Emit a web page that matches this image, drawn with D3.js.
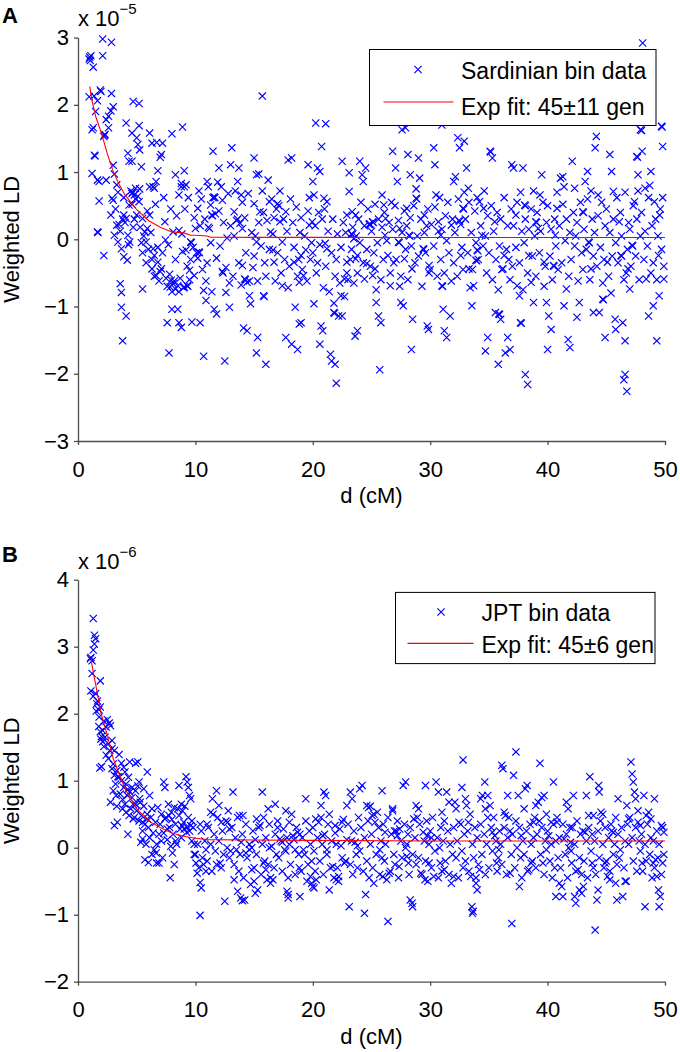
<!DOCTYPE html>
<html><head><meta charset="utf-8">
<script src="https://cdn.jsdelivr.net/npm/d3@7"></script>
<style>body{margin:0;background:#fff}svg{display:block}text{font-family:"Liberation Sans",Arial,Helvetica,sans-serif}</style>
</head><body>
<svg id="chart" width="680" height="1052"></svg>
<script>
// ---------- tick labels ----------
const xTicks = [0, 10, 20, 30, 40, 50];
const yTicksA = [-3, -2, -1, 0, 1, 2, 3];
const yTicksB = [-2, -1, 0, 1, 2, 3, 4];

// ---------- Panel A : Sardinian bin data (weighted LD, units of 1e-5) ----------
const sardinianPoints = [[1.0,2.71],[1.1,2.73],[0.95,2.68],[1.05,2.66],[1.3,2.56],[2.1,2.98],[2.85,2.93],[2.1,2.73],[1.9,2.22],[1.95,2.2],[2.85,2.17],[0.95,2.12],[1.37,2.13],[1.66,2.06],[3.0,1.97],[2.8,1.91],[2.6,1.83],[2.4,1.78],[1.3,1.66],[1.2,1.63],[2.3,1.56],[2.2,1.53],[2.25,1.55],[2.6,1.66],[1.5,1.9],[1.4,1.25],[1.45,1.24],[1.2,0.98],[1.66,0.88],[1.8,0.86],[2.4,0.88],[1.8,0.57],[1.66,0.11],[1.7,0.1],[2.2,-0.24],[3.0,1.1],[3.1,0.97],[3.3,0.81],[2.9,0.61],[3.0,0.58],[2.8,0.36],[3.1,0.06],[3.3,0.21],[3.4,-0.04],[3.7,-0.14],[3.6,-0.66],[3.7,-0.79],[3.7,-1.01],[3.8,-1.51],[4.1,-1.14],[3.9,-0.26],[4.2,-0.31],[4.1,1.73],[4.25,1.28],[4.35,1.16],[3.9,0.36],[4.1,0.31],[4.25,0.06],[4.4,-0.04],[4.35,0.51],[4.7,2.05],[5.2,2.02],[4.6,1.58],[5.2,1.69],[5.0,1.51],[5.1,1.41],[5.25,1.33],[4.6,1.16],[5.4,1.08],[4.6,0.68],[4.65,0.7],[4.8,0.66],[4.9,0.76],[5.25,0.75],[5.2,0.56],[5.5,0.31],[5.0,0.36],[5.5,-0.74],[5.7,0.11],[5.8,-0.04],[6.1,1.58],[6.3,1.43],[6.7,1.44],[7.2,1.43],[7.0,1.22],[7.1,1.26],[6.8,1.02],[6.1,0.78],[6.5,0.76],[6.65,0.86],[6.1,0.36],[5.9,0.16],[6.4,-0.14],[6.5,-0.24],[6.3,-0.44],[6.65,-0.54],[6.8,-0.34],[7.1,-0.44],[7.4,0.26],[7.45,-0.01],[7.6,-1.24],[7.75,-1.69],[7.95,-0.61],[7.85,-0.71],[8.1,-0.66],[8.3,-0.74],[8.5,-0.69],[8.0,-1.04],[8.5,-1.04],[8.6,-1.24],[8.8,-1.31],[8.0,1.57],[8.3,0.96],[8.9,1.67],[9.05,1.02],[8.8,0.83],[9.05,0.78],[9.2,0.81],[8.6,0.66],[8.6,0.13],[8.85,0.08],[8.1,0.11],[9.2,-0.16],[9.3,-0.69],[9.35,-0.7],[9.05,-0.71],[9.6,-0.04],[9.65,-0.05],[9.5,-0.46],[9.7,-1.23],[9.9,-0.54],[10.0,0.16],[10.3,-0.19],[10.35,-0.2],[10.2,0.46],[10.4,-1.24],[10.7,-1.74],[10.9,-0.91],[10.7,-0.76],[11.0,0.86],[11.1,0.78],[11.3,0.51],[11.5,1.31],[11.2,0.16],[11.6,0.63],[11.65,0.62],[11.4,0.36],[11.45,0.35],[11.6,-1.04],[11.8,-1.11],[12.0,1.06],[12.2,0.78],[12.3,-0.48],[12.35,-0.5],[12.5,-1.81],[12.6,-0.79],[12.9,-1.01],[13.1,1.36],[13.0,1.11],[13.3,0.41],[13.5,0.28],[13.7,1.06],[13.6,0.86],[13.9,0.66],[14.0,0.16],[14.0,-0.39],[14.2,-0.59],[14.25,-0.6],[14.4,-0.64],[14.1,-1.32],[14.4,-1.36],[14.6,-0.84],[14.7,-0.96],[15.0,1.21],[15.2,0.96],[15.4,0.97],[15.0,0.53],[15.5,0.41],[15.2,-0.04],[15.3,-1.46],[15.2,-1.69],[15.7,2.13],[15.8,-0.84],[15.85,-0.85],[16.0,-1.86],[16.2,0.88],[16.3,0.56],[16.4,0.11],[16.6,-0.16],[16.7,-0.34],[17.0,0.53],[17.2,0.26],[17.4,-0.04],[17.4,-0.69],[17.7,-1.46],[17.7,0.41],[17.9,1.18],[18.2,1.21],[18.2,-1.56],[18.7,-1.64],[18.5,-1.01],[18.85,-1.26],[19.0,-1.24],[18.4,-0.34],[18.85,-0.64],[19.0,-0.24],[19.2,-0.54],[19.4,-0.16],[19.6,1.11],[19.7,0.21],[19.95,0.26],[20.0,0.86],[20.1,0.66],[20.25,1.73],[20.4,1.06],[20.6,1.01],[20.75,1.38],[21.1,1.72],[20.95,0.61],[21.2,0.56],[20.1,-0.96],[20.7,-1.29],[20.6,-1.56],[20.85,-1.36],[21.05,-0.06],[21.2,-0.14],[21.5,-1.71],[21.6,-1.81],[21.8,-1.09],[21.85,-1.1],[22.0,-2.14],[21.9,-1.86],[22.2,-1.14],[22.4,-0.84],[22.5,-1.14],[22.7,-0.59],[22.9,-0.34],[22.5,1.16],[23.1,0.99],[23.1,0.71],[22.9,0.36],[23.3,0.08],[23.35,0.07],[23.35,0.41],[23.65,0.36],[23.5,0.01],[23.65,-0.29],[23.8,-0.24],[23.6,-1.44],[23.8,-1.36],[24.0,1.16],[24.2,0.96],[24.3,0.86],[24.5,1.06],[24.4,-0.59],[24.6,-0.36],[24.85,0.23],[24.9,0.22],[25.1,0.26],[25.15,0.25],[25.1,-0.54],[25.3,-0.44],[25.4,-0.94],[25.6,-1.14],[25.8,-1.24],[25.7,-1.94],[25.9,0.66],[26.05,0.51],[26.2,0.31],[26.15,0.06],[26.4,-0.24],[26.6,-0.69],[26.8,1.31],[27.05,1.06],[27.2,0.86],[27.3,-0.04],[27.35,-0.05],[27.4,0.16],[27.5,-0.94],[27.7,-0.99],[27.8,-0.29],[28.0,0.46],[27.9,1.66],[27.6,1.63],[28.1,1.26],[28.3,0.96],[28.2,0.06],[28.25,0.05],[28.45,-0.44],[28.4,-1.64],[28.5,-1.19],[28.8,0.61],[28.85,0.6],[29.0,1.21],[29.1,0.91],[29.4,-0.14],[29.45,-0.15],[29.5,0.36],[29.75,-1.29],[29.85,-1.34],[29.9,-0.39],[30.3,1.36],[30.4,1.11],[30.5,0.66],[30.7,0.26],[30.9,0.06],[31.0,1.7],[31.0,-0.69],[31.05,-0.7],[31.1,-1.04],[31.2,-1.36],[31.4,-1.46],[31.7,-1.14],[31.8,0.21],[32.0,0.86],[32.15,0.93],[32.35,1.51],[32.5,1.36],[32.45,0.28],[32.5,0.27],[32.6,-0.24],[32.8,0.46],[32.85,0.45],[32.9,1.46],[33.1,1.06],[33.25,0.76],[33.3,-0.44],[33.55,-0.99],[33.7,-0.69],[33.9,-0.31],[33.95,-0.32],[34.0,-0.16],[34.05,-0.17],[34.2,0.56],[34.4,0.06],[34.55,0.46],[34.7,-1.66],[34.9,-1.46],[35.1,1.31],[35.15,1.3],[35.3,1.21],[35.5,0.26],[35.55,-1.09],[35.8,-1.86],[35.85,-1.11],[35.9,-1.12],[36.0,-1.19],[36.2,-0.44],[36.3,-0.24],[36.4,-1.69],[36.6,-1.46],[36.8,-1.64],[36.95,1.11],[37.1,1.06],[37.3,0.36],[37.4,-0.69],[37.6,-0.84],[37.7,-1.24],[37.75,-1.25],[37.9,1.06],[38.05,0.51],[38.1,0.5],[38.1,-2.01],[38.3,-2.16],[38.4,-0.24],[38.6,-0.64],[38.8,-0.94],[39.0,0.26],[39.05,0.25],[39.2,0.16],[39.35,0.66],[39.5,0.96],[39.7,-0.34],[39.9,-0.94],[40.0,-1.64],[40.1,-1.14],[40.3,-1.34],[40.5,-0.39],[40.55,-0.4],[40.65,0.06],[40.8,0.46],[41.1,0.91],[41.3,0.93],[41.4,-0.99],[41.6,-0.74],[41.75,-1.49],[41.9,-1.61],[42.1,1.16],[42.3,0.76],[42.5,-1.16],[42.7,-0.94],[43.0,0.41],[43.05,0.4],[43.2,0.86],[43.4,1.01],[43.5,-0.04],[43.55,-0.05],[43.7,-0.44],[43.9,-1.09],[44.05,1.36],[44.15,1.53],[44.3,0.66],[44.4,-1.09],[44.7,-0.89],[44.75,-0.9],[44.9,-1.46],[45.1,-0.34],[45.3,1.26],[45.45,1.01],[45.6,0.71],[45.75,-1.19],[45.8,-1.34],[46.1,0.26],[46.25,-0.24],[46.3,-0.25],[46.4,-1.24],[46.6,-1.51],[46.5,-2.09],[46.75,-2.26],[46.6,-2.01],[46.85,-0.44],[47.0,-0.74],[47.2,-0.09],[47.25,-0.1],[47.4,0.56],[47.6,1.23],[47.65,1.22],[47.7,0.96],[47.9,1.63],[48.0,1.62],[48.1,2.92],[48.05,1.31],[48.3,0.76],[48.4,-0.59],[48.6,-1.14],[48.8,1.01],[49.0,-0.99],[49.1,0.56],[49.3,-1.51],[49.45,-0.24],[49.5,-0.84],[49.55,0.36],[49.7,1.68],[49.75,1.67],[49.8,1.38],[49.9,-0.59]];
const sardinianBandPoints = [[3.2,0.45],[3.5,0.22],[3.6,0.12],[3.8,0.3],[3.9,0.62],[3.4,0.7],[4.0,0.25],[4.3,-0.08],[4.5,0.72],[4.6,0.52],[4.8,0.3],[4.9,0.6],[4.7,0.18],[5.1,0.64],[5.3,0.18],[5.5,-0.2],[5.6,0.05],[5.8,-0.35],[5.9,0.42],[5.4,-0.05],[6.0,-0.15],[6.2,0.1],[6.3,-0.3],[6.5,-0.55],[6.6,0.52],[6.8,-0.12],[6.9,-0.62],[6.4,0.78],[7.0,-0.48],[7.2,-0.2],[7.3,0.62],[7.5,-0.58],[7.6,-0.7],[7.8,-0.52],[7.9,0.45],[7.7,-0.08],[8.0,-0.78],[8.2,-0.62],[8.3,-0.3],[8.4,0.35],[8.6,-0.78],[8.7,-0.58],[8.9,-0.18],[8.8,0.78],[9.0,-0.72],[9.1,0.45],[9.3,-0.4],[9.4,0.62],[9.6,-0.3],[9.8,-0.12],[9.9,0.32],[9.5,-0.6],[10.1,-0.2],[10.2,-0.28],[10.4,0.2],[10.5,0.6],[10.6,-0.45],[10.8,0.3],[10.9,-0.62],[10.3,0.72],[11.0,-0.35],[11.1,0.18],[11.3,-0.05],[11.4,-0.78],[11.5,0.62],[11.7,0.38],[11.8,-0.28],[11.9,0.85],[12.0,0.42],[12.1,-0.1],[12.3,0.58],[12.4,0.25],[12.6,-0.42],[12.7,0.02],[12.8,0.68],[12.9,-0.65],[13.0,0.2],[13.2,-0.55],[13.3,0.05],[13.4,0.72],[13.6,0.3],[13.7,-0.35],[13.8,0.24],[13.9,-0.68],[14.0,0.55],[14.2,0.32],[14.3,-0.2],[14.5,0.68],[14.6,-0.62],[14.8,0.1],[14.9,-0.42],[15.0,-0.25],[15.1,0.05],[15.3,-0.62],[15.4,0.25],[15.6,-0.1],[15.7,0.72],[15.9,-0.35],[15.8,0.4],[16.0,-0.55],[16.1,0.28],[16.3,-0.15],[16.5,0.6],[16.6,0.08],[16.8,-0.62],[16.9,0.45],[16.7,0.32],[17.0,-0.2],[17.1,0.5],[17.3,-0.5],[17.5,0.3],[17.6,-0.3],[17.8,0.12],[17.9,-0.72],[17.2,0.72],[18.0,-0.4],[18.1,0.6],[18.3,0.25],[18.4,-0.12],[18.6,0.48],[18.7,-0.55],[18.9,0.1],[18.8,-0.3],[19.0,0.32],[19.1,-0.45],[19.3,0.05],[19.5,-0.62],[19.6,0.42],[19.8,-0.3],[19.9,-0.05],[19.7,0.62],[20.0,-0.2],[20.2,0.2],[20.3,-0.5],[20.5,0.4],[20.6,-0.08],[20.8,0.3],[20.9,-0.72],[20.4,-0.35],[21.0,0.45],[21.1,-0.4],[21.3,0.12],[21.4,-0.78],[21.6,-0.2],[21.7,0.3],[21.9,-0.55],[21.8,-0.95],[22.0,-0.3],[22.1,0.08],[22.3,-0.65],[22.4,-0.12],[22.6,0.25],[22.7,-0.85],[22.9,-0.5],[22.8,0.1],[23.0,-0.6],[23.2,-0.3],[23.4,0.18],[23.5,-0.65],[23.7,0.05],[23.8,-0.5],[23.9,0.3],[23.3,-0.15],[24.0,-0.05],[24.1,0.55],[24.3,-0.35],[24.4,0.2],[24.6,-0.15],[24.7,0.45],[24.9,-0.4],[24.8,0.22],[25.0,0.12],[25.2,-0.2],[25.3,0.52],[25.5,-0.05],[25.6,0.3],[25.8,-0.6],[25.9,0.18],[25.4,-0.75],[26.0,-0.3],[26.1,0.4],[26.3,-0.02],[26.5,0.25],[26.6,-0.5],[26.8,0.15],[26.9,-0.35],[26.7,0.55],[27.0,0.5],[27.1,-0.3],[27.3,0.28],[27.5,-0.55],[27.6,0.1],[27.8,0.42],[27.9,-0.15],[27.4,-0.7],[28.0,0.2],[28.1,-0.6],[28.3,0.32],[28.4,-0.1],[28.6,0.5],[28.7,-0.35],[28.9,0.05],[28.8,0.75],[29.0,-0.25],[29.2,0.3],[29.3,-0.7],[29.5,0.1],[29.6,-0.2],[29.8,0.45],[29.9,-0.5],[29.7,0.2],[30.0,-0.45],[30.1,0.22],[30.3,-0.1],[30.4,0.48],[30.6,-0.55],[30.7,0.12],[30.9,-0.3],[30.8,0.62],[31.0,0.15],[31.2,-0.5],[31.3,0.35],[31.5,0.55],[31.6,-0.2],[31.8,-0.62],[31.9,0.3],[31.4,-0.02],[32.0,-0.35],[32.1,0.1],[32.3,-0.55],[32.4,0.6],[32.6,0.22],[32.7,-0.12],[32.9,0.7],[32.8,-0.45],[33.0,0.3],[33.2,-0.2],[33.3,0.55],[33.5,0.1],[33.6,-0.45],[33.8,0.42],[33.9,-0.05],[33.4,-0.72],[34.0,0.62],[34.1,-0.3],[34.3,0.2],[34.5,-0.1],[34.6,0.72],[34.8,-0.5],[34.9,0.35],[34.7,0.05],[35.0,-0.2],[35.2,0.5],[35.3,-0.6],[35.4,0.12],[35.6,-0.3],[35.7,0.4],[35.9,-0.1],[35.8,-0.75],[36.0,0.3],[36.1,-0.45],[36.3,0.62],[36.5,-0.15],[36.6,0.2],[36.8,-0.6],[36.9,0.45],[36.7,-0.3],[37.0,-0.4],[37.1,0.2],[37.3,-0.12],[37.4,0.55],[37.6,-0.35],[37.8,0.12],[37.9,-0.75],[37.7,0.7],[38.0,-0.05],[38.1,0.3],[38.3,-0.5],[38.4,0.15],[38.6,0.45],[38.7,-0.25],[38.9,0.05],[38.8,0.72],[39.0,-0.55],[39.1,0.4],[39.3,-0.2],[39.4,0.12],[39.6,0.55],[39.8,-0.4],[39.9,0.25],[39.7,-0.7],[40.0,0.5],[40.2,-0.25],[40.3,0.15],[40.4,-0.6],[40.6,0.3],[40.7,-0.1],[40.9,-0.45],[40.8,0.7],[41.0,0.2],[41.2,-0.35],[41.3,0.52],[41.5,-0.02],[41.6,0.3],[41.8,-0.55],[41.9,0.1],[41.4,0.78],[42.0,-0.3],[42.2,0.4],[42.3,-0.1],[42.5,0.25],[42.6,-0.62],[42.8,0.55],[42.9,-0.2],[42.4,0.05],[43.0,-0.45],[43.1,0.15],[43.3,-0.15],[43.4,0.6],[43.6,-0.6],[43.8,0.3],[43.9,-0.25],[43.7,0.72],[44.0,0.1],[44.2,-0.4],[44.3,0.35],[44.5,-0.12],[44.6,0.55],[44.8,-0.3],[44.9,0.2],[44.7,-0.65],[45.0,0.45],[45.2,-0.55],[45.3,0.1],[45.5,-0.25],[45.6,0.3],[45.8,-0.05],[45.9,0.62],[45.4,-0.8],[46.0,-0.35],[46.2,0.4],[46.3,0.05],[46.5,-0.6],[46.6,0.7],[46.8,-0.15],[46.9,0.25],[46.7,-0.5],[47.0,0.15],[47.1,-0.4],[47.3,0.5],[47.5,-0.25],[47.6,0.3],[47.8,-0.6],[47.9,0.05],[47.7,0.72],[48.0,0.4],[48.2,-0.3],[48.3,0.12],[48.5,-0.1],[48.6,0.62],[48.8,-0.5],[48.9,0.2],[48.7,0.8],[49.0,-0.35],[49.2,0.3],[49.3,-0.6],[49.4,0.05],[49.6,0.45],[49.7,-0.15],[49.8,0.62],[49.9,-0.4]];
const sardinianFitD  = [1.0, 1.2, 1.5, 2.0, 2.5, 3.0, 3.5, 4.0, 5.0, 6.0, 7.0, 8.0, 9.0, 9.6, 10.0, 11.0, 11.3, 20.0, 30.0, 40.0, 50.0];
const sardinianFitLD = [2.27, 2.06, 1.83, 1.58, 1.27, 1.01, 0.82, 0.66, 0.44, 0.28, 0.18, 0.11, 0.095, 0.06, 0.06, 0.05, 0.03, 0.028, 0.027, 0.027, 0.027];

// ---------- Panel B : JPT bin data (weighted LD, units of 1e-6) ----------
const jptPoints = [[1.3,3.42],[1.4,3.17],[1.5,3.12],[1.4,3.04],[1.1,2.84],[1.2,2.79],[1.05,2.82],[1.9,2.49],[1.1,2.34],[1.3,2.26],[1.66,2.19],[1.77,2.06],[1.55,2.04],[2.2,1.89],[2.5,1.91],[2.66,1.86],[2.77,1.82],[1.77,1.81],[1.9,1.73],[2.0,1.66],[2.1,1.58],[1.95,1.62],[2.2,1.51],[2.9,1.48],[2.4,1.38],[2.6,1.33],[3.5,1.39],[1.85,1.19],[2.0,1.21],[2.9,1.18],[3.1,1.08],[3.4,1.06],[3.7,1.26],[4.0,1.13],[4.4,1.28],[4.9,1.26],[5.1,1.28],[3.0,0.85],[3.25,0.78],[3.9,0.9],[4.25,0.87],[4.4,0.83],[4.6,0.75],[2.77,0.68],[3.3,0.62],[3.8,0.58],[4.1,0.53],[4.35,0.48],[3.1,0.33],[3.35,0.38],[4.25,0.2],[4.7,0.43],[4.9,0.65],[5.25,0.73],[5.2,0.98],[5.9,1.13],[5.6,0.88],[6.1,0.78],[5.4,0.48],[5.5,0.38],[5.5,0.13],[5.35,0.08],[5.9,0.43],[6.3,0.58],[5.7,-0.18],[6.0,-0.22],[6.5,-0.03],[6.65,-0.08],[6.7,-0.23],[6.9,-0.23],[7.1,0.1],[7.3,0.98],[7.4,0.9],[7.4,0.43],[7.6,0.28],[7.75,0.48],[7.95,0.53],[7.85,-0.45],[8.2,-0.25],[8.05,-0.08],[8.3,0.1],[8.5,0.58],[8.6,0.93],[8.8,0.65],[8.85,0.33],[9.05,0.28],[9.2,1.06],[9.3,0.98],[9.4,0.9],[9.5,0.78],[9.6,0.73],[9.25,0.23],[9.6,0.33],[9.7,0.1],[9.9,-0.1],[10.05,-0.23],[10.15,-0.38],[10.4,-0.52],[10.5,-0.6],[10.4,-1.01],[10.7,-0.25],[10.9,-0.03],[11.0,0.35],[11.3,0.53],[11.5,0.5],[11.45,0.73],[11.8,0.85],[12.0,0.63],[12.2,0.38],[12.1,-0.23],[12.5,-0.8],[12.75,0.38],[12.9,0.28],[13.2,0.83],[13.5,-0.03],[13.3,-0.48],[13.6,-0.65],[13.85,-0.75],[14.0,-0.79],[14.2,-0.78],[13.75,0.48],[14.05,0.48],[14.3,-0.08],[14.6,-0.03],[14.8,-0.33],[15.0,-0.5],[15.1,-0.68],[15.3,-0.63],[15.2,0.43],[15.5,0.33],[15.7,0.83],[15.8,-0.23],[16.0,-0.33],[16.1,-0.48],[16.2,0.58],[16.3,0.0],[16.4,-0.53],[16.6,-0.48],[16.8,0.65],[17.0,0.3],[17.2,0.13],[17.4,0.08],[17.6,-0.03],[17.7,0.55],[17.8,-0.65],[17.9,-0.7],[17.9,-0.75],[18.0,0.38],[18.3,0.18],[18.5,-0.03],[18.7,0.23],[18.85,-0.3],[18.9,-0.73],[19.2,-0.03],[19.4,0.73],[19.6,-0.25],[19.8,-0.43],[19.9,-0.53],[20.0,-0.58],[20.1,-0.6],[20.3,-0.48],[20.25,0.43],[20.5,0.38],[20.7,0.63],[20.95,0.83],[21.1,0.78],[20.85,0.18],[21.2,-0.03],[21.4,-0.63],[21.7,-0.28],[21.9,0.33],[22.0,-0.48],[22.2,-0.43],[22.4,0.03],[22.5,0.38],[22.7,-0.23],[22.9,0.63],[23.1,-0.88],[23.2,0.83],[23.35,0.73],[23.6,0.08],[23.8,0.03],[24.0,0.88],[24.2,0.93],[24.4,-0.98],[24.5,-0.7],[24.6,0.63],[24.75,0.6],[24.9,0.62],[25.05,0.48],[25.2,-0.53],[25.3,0.38],[25.5,0.53],[25.7,-0.03],[25.9,0.85],[25.95,-0.43],[26.15,0.23],[26.3,-0.48],[26.4,-1.1],[26.5,-0.38],[26.8,0.58],[26.95,0.25],[27.2,0.18],[27.35,-0.28],[27.4,0.28],[27.7,0.93],[27.9,0.98],[28.0,-0.13],[28.15,-0.23],[28.3,-0.78],[28.45,-0.83],[28.5,-0.88],[28.6,0.43],[28.8,0.63],[29.0,0.58],[29.2,-0.38],[29.4,0.23],[29.55,-0.48],[29.6,0.93],[29.75,0.18],[29.9,-0.23],[30.1,0.15],[30.3,-0.43],[30.5,0.98],[30.7,0.83],[30.85,-0.23],[31.0,0.53],[31.2,-0.33],[31.4,0.83],[31.6,0.68],[31.8,-0.53],[32.0,-0.43],[32.1,0.68],[32.2,0.58],[32.45,0.38],[32.8,1.31],[32.7,0.9],[33.0,0.73],[33.1,0.63],[33.25,0.38],[33.45,-0.43],[33.55,-0.88],[33.6,-0.98],[33.65,-0.95],[33.9,-0.53],[34.0,-0.63],[34.2,-0.33],[34.3,0.73],[34.45,0.78],[34.65,0.98],[34.7,0.58],[34.9,0.78],[35.1,0.63],[35.3,0.23],[35.5,0.18],[35.65,-0.23],[35.85,-0.03],[36.1,1.23],[36.2,1.18],[36.3,0.53],[36.4,0.48],[36.6,0.78],[36.8,-0.38],[36.95,-1.13],[37.1,1.08],[37.3,1.43],[37.5,0.78],[37.6,-0.58],[37.75,0.18],[38.0,0.58],[38.1,0.88],[38.25,0.93],[38.4,-0.33],[38.6,-0.23],[38.8,0.38],[39.0,0.63],[39.2,0.68],[39.35,1.26],[39.5,0.75],[39.6,-0.23],[39.7,0.78],[39.9,-0.03],[40.1,0.18],[40.3,0.38],[40.5,0.98],[40.6,-0.3],[40.7,-0.73],[40.8,0.38],[41.0,-0.53],[41.2,-0.58],[41.3,-0.73],[41.4,0.13],[41.6,0.68],[41.75,0.58],[41.95,0.08],[42.05,-0.23],[42.2,0.78],[42.3,-0.73],[42.4,-0.83],[42.6,-0.33],[42.7,-0.63],[42.9,-0.68],[43.05,-0.58],[43.2,0.23],[43.3,0.78],[43.5,0.48],[43.6,1.06],[43.8,-0.23],[43.9,0.48],[44.05,-1.23],[44.2,-0.78],[44.3,-0.63],[44.35,0.93],[44.4,0.83],[44.55,0.53],[44.7,0.5],[44.9,-0.23],[45.1,-0.43],[45.3,-0.48],[45.45,0.25],[45.6,0.23],[45.8,-0.53],[45.9,-0.78],[46.0,0.73],[46.2,-0.03],[46.4,-0.73],[46.6,-0.5],[46.75,0.63],[46.9,0.43],[47.1,1.28],[47.2,1.1],[47.3,0.98],[47.4,0.83],[47.5,0.73],[47.7,0.38],[47.9,0.33],[48.05,-0.23],[48.2,0.78],[48.3,-0.88],[48.4,0.48],[48.6,0.53],[48.8,0.43],[49.0,-0.23],[49.1,0.73],[49.2,-0.18],[49.3,-0.43],[49.45,-0.63],[49.5,-0.88],[49.6,-0.73],[49.7,0.33],[49.8,-0.23],[49.9,0.23]];
const jptBandPoints = [[1.2,2.6],[1.3,2.95],[1.5,2.3],[1.6,2.15],[1.8,1.95],[1.9,2.1],[2.1,1.75],[2.3,1.65],[2.4,1.8],[2.6,1.55],[2.7,1.45],[2.9,1.6],[3.0,1.25],[3.1,1.45],[3.2,0.95],[3.3,1.15],[3.5,1.05],[3.6,0.8],[3.7,1.0],[3.8,0.72],[3.9,1.2],[4.0,0.65],[4.1,0.95],[4.2,0.78],[4.3,1.05],[4.5,0.58],[4.6,0.9],[4.7,0.65],[4.8,0.45],[4.9,0.85],[5.0,0.55],[5.1,0.92],[5.2,0.4],[5.3,0.68],[5.5,0.25],[5.6,0.62],[5.7,0.35],[5.8,0.05],[5.9,0.5],[6.0,0.3],[6.1,0.15],[6.2,0.45],[6.3,-0.1],[6.4,0.22],[6.6,0.38],[6.7,0.05],[6.8,0.6],[6.9,0.2],[7.0,0.35],[7.1,0.5],[7.2,-0.15],[7.3,0.22],[7.5,0.45],[7.6,0.12],[7.7,0.65],[7.8,0.3],[7.9,0.02],[8.0,0.42],[8.1,0.2],[8.2,0.6],[8.3,0.35],[8.4,0.05],[8.6,0.48],[8.7,0.28],[8.9,0.55],[8.8,0.15],[9.0,0.38],[9.1,0.62],[9.3,0.3],[9.4,0.45],[9.5,0.25],[9.7,0.4],[9.8,0.3],[9.9,0.05],[10.0,-0.1],[10.2,0.05],[10.3,-0.3],[10.5,0.25],[10.6,-0.15],[10.8,0.1],[10.9,-0.35],[10.4,0.35],[11.0,-0.2],[11.1,0.3],[11.3,0.05],[11.4,-0.35],[11.6,0.2],[11.7,-0.05],[11.9,0.45],[11.8,-0.25],[12.0,0.1],[12.2,-0.3],[12.3,0.25],[12.4,-0.1],[12.6,0.4],[12.7,0.0],[12.9,-0.15],[12.8,0.55],[13.0,-0.05],[13.1,0.3],[13.3,-0.25],[13.4,0.15],[13.6,0.45],[13.7,-0.35],[13.9,0.08],[13.8,-0.1],[14.0,0.2],[14.1,-0.45],[14.3,0.35],[14.4,-0.15],[14.6,0.05],[14.7,-0.55],[14.9,0.25],[14.8,0.0],[15.0,-0.3],[15.1,0.12],[15.2,-0.1],[15.4,0.3],[15.6,-0.4],[15.7,0.05],[15.9,-0.2],[15.8,0.45],[16.0,0.15],[16.2,-0.25],[16.3,0.35],[16.4,-0.45],[16.5,0.02],[16.7,-0.3],[16.8,0.2],[16.9,-0.1],[17.0,0.4],[17.1,-0.15],[17.3,0.1],[17.4,-0.35],[17.5,0.28],[17.7,-0.05],[17.8,0.15],[17.9,-0.45],[18.0,0.05],[18.1,-0.25],[18.2,0.5],[18.4,0.12],[18.5,-0.4],[18.6,0.3],[18.8,-0.1],[18.9,0.2],[19.0,-0.35],[19.1,0.15],[19.3,-0.1],[19.4,0.4],[19.5,-0.5],[19.7,0.25],[19.8,0.05],[19.9,-0.2],[20.0,0.3],[20.1,-0.05],[20.2,-0.35],[20.4,0.15],[20.6,-0.2],[20.7,0.45],[20.9,-0.4],[20.8,0.05],[21.0,0.2],[21.2,-0.1],[21.3,0.35],[21.5,-0.3],[21.6,0.1],[21.8,-0.45],[21.9,0.22],[21.4,0.5],[22.0,0.05],[22.1,-0.3],[22.3,0.28],[22.5,-0.15],[22.6,0.42],[22.8,-0.2],[22.9,0.12],[22.2,-0.5],[23.0,0.35],[23.2,-0.25],[23.3,0.1],[23.4,-0.4],[23.5,0.25],[23.7,-0.1],[23.9,0.45],[23.8,-0.3],[24.0,-0.05],[24.1,0.3],[24.3,-0.35],[24.4,0.15],[24.6,-0.2],[24.7,0.4],[24.9,0.05],[24.8,-0.45],[25.0,0.2],[25.1,-0.3],[25.2,0.5],[25.4,-0.1],[25.6,0.3],[25.7,-0.4],[25.8,0.1],[25.9,-0.15],[26.0,0.35],[26.1,-0.2],[26.2,0.05],[26.4,0.45],[26.6,-0.35],[26.7,0.2],[26.9,-0.1],[26.8,0.55],[27.0,-0.25],[27.1,0.25],[27.3,-0.45],[27.5,0.1],[27.6,-0.15],[27.8,0.35],[27.9,0.0],[27.2,0.4],[28.1,0.2],[28.2,-0.4],[28.3,0.3],[28.5,-0.1],[28.7,0.15],[28.8,-0.25],[28.9,0.45],[28.0,0.05],[29.0,-0.15],[29.1,0.35],[29.3,-0.4],[29.5,0.1],[29.6,-0.2],[29.7,0.4],[29.9,0.05],[29.8,-0.5],[30.0,0.25],[30.1,-0.3],[30.2,0.45],[30.4,-0.05],[30.6,0.15],[30.7,-0.45],[30.9,0.3],[30.8,0.0],[31.1,0.1],[31.2,0.4],[31.3,-0.2],[31.5,0.25],[31.6,-0.4],[31.7,0.05],[31.9,-0.1],[31.0,-0.35],[32.0,0.3],[32.2,-0.15],[32.3,0.1],[32.4,-0.45],[32.6,0.35],[32.7,-0.05],[32.9,0.2],[32.8,-0.3],[33.0,-0.2],[33.2,0.25],[33.3,-0.35],[33.4,0.5],[33.6,0.05],[33.7,-0.15],[33.8,0.3],[33.9,-0.45],[34.0,0.15],[34.1,-0.25],[34.3,0.35],[34.4,-0.1],[34.6,0.2],[34.7,-0.4],[34.8,0.05],[34.9,0.45],[35.0,-0.3],[35.2,0.3],[35.3,-0.05],[35.4,0.45],[35.6,0.1],[35.7,-0.35],[35.9,0.25],[35.8,-0.15],[36.0,0.05],[36.1,-0.25],[36.3,0.3],[36.5,-0.4],[36.6,0.15],[36.7,0.45],[36.9,-0.1],[36.8,0.25],[37.0,0.2],[37.2,-0.3],[37.3,0.4],[37.4,0.0],[37.6,0.3],[37.7,-0.15],[37.9,0.1],[37.8,-0.45],[38.0,-0.1],[38.2,0.25],[38.3,-0.35],[38.5,0.35],[38.6,0.05],[38.7,-0.2],[38.9,0.45],[38.8,0.15],[39.0,-0.3],[39.1,0.2],[39.3,0.4],[39.4,-0.1],[39.5,0.3],[39.7,-0.4],[39.8,0.1],[39.9,0.5],[40.0,0.25],[40.2,-0.2],[40.3,0.05],[40.4,-0.45],[40.5,0.35],[40.7,0.1],[40.9,-0.15],[40.8,0.45],[41.0,0.15],[41.1,-0.3],[41.3,0.35],[41.5,-0.1],[41.6,0.2],[41.7,-0.45],[41.9,0.3],[41.8,0.0],[42.0,-0.05],[42.1,0.3],[42.3,0.05],[42.4,-0.35],[42.5,0.4],[42.7,-0.15],[42.8,0.2],[42.9,-0.4],[43.0,0.25],[43.1,-0.2],[43.3,0.1],[43.4,-0.45],[43.5,0.3],[43.7,-0.05],[43.8,0.2],[43.9,-0.3],[44.0,0.1],[44.1,-0.4],[44.3,0.25],[44.4,-0.15],[44.5,0.4],[44.7,0.05],[44.8,-0.3],[44.9,0.3],[45.0,-0.2],[45.2,0.15],[45.3,-0.35],[45.4,0.35],[45.6,-0.1],[45.7,0.05],[45.9,-0.25],[45.8,0.45],[46.0,0.2],[46.1,-0.15],[46.3,0.3],[46.5,-0.3],[46.6,0.1],[46.7,-0.5],[46.9,0.05],[46.8,0.35],[47.0,0.45],[47.2,0.15],[47.3,-0.2],[47.5,0.3],[47.6,-0.35],[47.8,0.1],[47.9,-0.05],[47.7,0.55],[48.0,0.2],[48.1,-0.35],[48.3,0.05],[48.4,-0.2],[48.5,0.35],[48.7,-0.1],[48.8,0.15],[48.9,-0.45],[49.0,0.1],[49.1,-0.3],[49.3,0.25],[49.4,-0.15],[49.5,0.05],[49.7,-0.4],[49.8,0.3],[49.9,-0.1]];
const jptFitD  = [1.1, 1.5, 2.0, 2.5, 3.0, 4.0, 5.0, 6.0, 7.0, 8.0, 9.0, 10.0, 11.0, 20.0, 30.0, 40.0, 50.0];
const jptFitLD = [2.81, 2.44, 1.98, 1.68, 1.33, 0.88, 0.58, 0.40, 0.30, 0.22, 0.17, 0.14, 0.12, 0.11, 0.10, 0.10, 0.10];

// ---------- drawing ----------
const svg = d3.select("#chart");
const FONT = '"Liberation Sans", Arial, Helvetica, sans-serif';
const minusFmt = d => (d < 0 ? "\u2212" + Math.abs(d) : String(d));
const MARK = "M-3.6,-3.6L3.6,3.6M-3.6,3.6L3.6,-3.6";

function drawPanel(o) {
  const g = svg.append("g");
  const x = d3.scaleLinear().domain([0, 50]).range([78, 665]);
  const y = d3.scaleLinear().domain([o.yTicks[0], o.yTicks[o.yTicks.length - 1]]).range([o.yBottom, o.yTop]);

  // scatter markers (x)
  g.append("g").selectAll("path").data(o.points).join("path")
    .attr("transform", d => `translate(${x(d[0]).toFixed(2)},${y(d[1]).toFixed(2)})`)
    .attr("d", MARK)
    .attr("fill", "none").attr("stroke", "#0000ff").attr("stroke-width", 1.15);

  // exponential fit line
  const line = d3.line().x((d, i) => x(o.fitD[i])).y(d => y(d));
  g.append("path").datum(o.fitLD).attr("d", line)
    .attr("fill", "none").attr("stroke", "#ff0000").attr("stroke-width", 1.1);

  // axes
  const ya = g.append("g").attr("transform", "translate(78,0)")
    .call(d3.axisLeft(y).tickValues(o.yTicks).tickSize(4).tickSizeOuter(0).tickPadding(5).tickFormat(minusFmt));
  const xa = g.append("g").attr("transform", `translate(0,${o.yBottom})`)
    .call(d3.axisBottom(x).tickValues(xTicks).tickSize(4).tickSizeOuter(0).tickPadding(16));
  [ya, xa].forEach(a => {
    a.attr("font-family", FONT).attr("font-size", 22).attr("color", "#4d4d4d");
    a.select(".domain").attr("stroke-width", 1.3);
    a.selectAll(".tick line").attr("stroke-width", 1.3);
    a.selectAll("text").attr("fill", "#000");
  });

  // axis titles
  g.append("text").attr("x", 371.5).attr("y", o.yBottom + 62).attr("text-anchor", "middle")
    .attr("font-size", 22).attr("fill", "#000").text("d (cM)");
  g.append("text").attr("transform", `translate(19,${(o.yTop + o.yBottom) / 2}) rotate(-90)`)
    .attr("text-anchor", "middle").attr("font-size", 22).attr("fill", "#000").text("Weighted LD");

  // panel letter
  g.append("text").attr("x", 2).attr("y", o.letterY).attr("font-size", 22).attr("font-weight", "bold")
    .attr("fill", "#000").text(o.letter);

  // exponent label
  const ex = g.append("text").attr("x", 78).attr("y", o.expY).attr("font-size", 22).attr("fill", "#000");
  ex.append("tspan").text("x 10");
  ex.append("tspan").attr("dy", -12.5).attr("font-size", 15).text(o.exponent);

  // legend
  const L = o.legend;
  const lg = g.append("g");
  lg.append("rect").attr("x", L.x0).attr("y", L.y0).attr("width", L.x1 - L.x0).attr("height", L.y1 - L.y0)
    .attr("fill", "#fff").attr("stroke", "#000").attr("stroke-width", 1);
  lg.append("path").attr("transform", `translate(${L.markX},${L.markY})`)
    .attr("d", MARK).attr("fill", "none").attr("stroke", "#0000ff").attr("stroke-width", 1.15);
  lg.append("text").attr("x", L.textX).attr("y", L.text1Y).attr("font-size", 23).attr("fill", "#000").text(o.seriesName);
  lg.append("line").attr("x1", L.lineX0).attr("x2", L.lineX1).attr("y1", L.lineY).attr("y2", L.lineY)
    .attr("stroke", "#ff0000").attr("stroke-width", 1.1);
  lg.append("text").attr("x", L.textX).attr("y", L.text2Y).attr("font-size", 23).attr("fill", "#000").text(o.fitName);
}

drawPanel({
  points: sardinianPoints.concat(sardinianBandPoints),
  fitD: sardinianFitD, fitLD: sardinianFitLD,
  yTicks: yTicksA, yTop: 37.6, yBottom: 441,
  letter: "A", letterY: 22.7, expY: 26, exponent: "\u22125",
  seriesName: "Sardinian bin data", fitName: "Exp fit: 45\u00b111 gen",
  legend: { x0: 369.5, x1: 656, y0: 49.5, y1: 125.5, markX: 418, markY: 69.5, textX: 461,
            text1Y: 79.3, text2Y: 115, lineX0: 383.5, lineX1: 453.5, lineY: 102 }
});

drawPanel({
  points: jptPoints.concat(jptBandPoints),
  fitD: jptFitD, fitLD: jptFitLD,
  yTicks: yTicksB, yTop: 579.7, yBottom: 981.7,
  letter: "B", letterY: 562, expY: 569, exponent: "\u22126",
  seriesName: "JPT bin data", fitName: "Exp fit: 45\u00b16 gen",
  legend: { x0: 395.5, x1: 655, y0: 592.4, y1: 663.6, markX: 441, markY: 612, textX: 481.5,
            text1Y: 620.5, text2Y: 653, lineX0: 407.5, lineX1: 473.5, lineY: 643.4 }
});
</script>
</body></html>
